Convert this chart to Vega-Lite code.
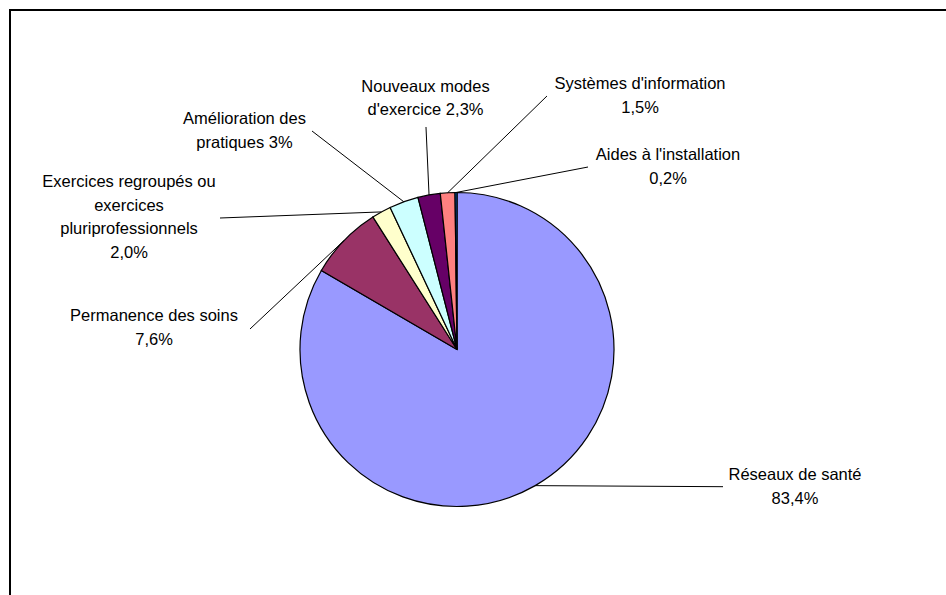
{
  "$schema": "https://vega.github.io/schema/vega-lite/v6.json",
  "width": 936,
  "height": 585,
  "autosize": {"type": "none"},
  "padding": {"left": 10, "top": 10, "right": 0, "bottom": 0},
  "background": "white",
  "config": {"view": {"stroke": null}},
  "data": {
    "values": [
      {"idx": 1, "cat": "Réseaux de santé", "pct": 83.4, "label": "Réseaux de santé\n83,4%"},
      {"idx": 2, "cat": "Permanence des soins", "pct": 7.6, "label": "Permanence des soins\n7,6%"},
      {"idx": 3, "cat": "Exercices regroupés ou exercices pluriprofessionnels", "pct": 2.0, "label": "Exercices regroupés ou\nexercices\npluriprofessionnels\n2,0%"},
      {"idx": 4, "cat": "Amélioration des pratiques", "pct": 3.0, "label": "Amélioration des\npratiques 3%"},
      {"idx": 5, "cat": "Nouveaux modes d'exercice", "pct": 2.3, "label": "Nouveaux modes\nd'exercice 2,3%"},
      {"idx": 6, "cat": "Systèmes d'information", "pct": 1.5, "label": "Systèmes d'information\n1,5%"},
      {"idx": 7, "cat": "Aides à l'installation", "pct": 0.2, "label": "Aides à l'installation\n0,2%"}
    ]
  },
  "layer": [
    {
      "mark": {"type": "arc", "outerRadius": 157, "stroke": "black", "strokeWidth": 1.2},
      "encoding": {
        "theta": {"field": "pct", "type": "quantitative", "stack": true},
        "order": {"field": "idx", "type": "quantitative"},
        "color": {
          "field": "cat",
          "type": "nominal",
          "legend": null,
          "scale": {
            "domain": ["Réseaux de santé", "Permanence des soins", "Exercices regroupés ou exercices pluriprofessionnels", "Amélioration des pratiques", "Nouveaux modes d'exercice", "Systèmes d'information", "Aides à l'installation"],
            "range": ["#9999FF", "#993366", "#FFFFCC", "#CCFFFF", "#660066", "#FF8080", "#0066CC"]
          }
        },
        "x": {"datum": 0, "type": "quantitative", "scale": {"domain": [-447, 489], "nice": false, "zero": false}, "axis": null},
        "y": {"datum": 0, "type": "quantitative", "scale": {"domain": [-339.5, 245.5], "reverse": true, "nice": false, "zero": false}, "axis": null}
      }
    },
    {
      "transform": [
        {"window": [{"op": "sum", "field": "pct", "as": "cum"}], "sort": [{"field": "idx"}], "frame": [null, 0]},
        {"calculate": "2 * PI * (datum.cum - datum.pct / 2) / 100", "as": "ang"},
        {"calculate": "157 * sin(datum.ang)", "as": "ex"},
        {"calculate": "-157 * cos(datum.ang)", "as": "ey"},
        {"calculate": "[266, -207, -237, -145, -31, 90, 131][datum.idx - 1]", "as": "lx"},
        {"calculate": "[137.2, -20.5, -131.5, -218.5, -222.5, -253.5, -182.5][datum.idx - 1]", "as": "ly"}
      ],
      "mark": {"type": "rule", "color": "black", "strokeWidth": 1},
      "encoding": {
        "x": {"field": "ex", "type": "quantitative", "axis": null},
        "y": {"field": "ey", "type": "quantitative", "axis": null},
        "x2": {"field": "lx"},
        "y2": {"field": "ly"}
      }
    },
    {
      "transform": [
        {"calculate": "[338, -303, -328, -212.5, -31.5, 183, 211][datum.idx - 1]", "as": "tx"},
        {"calculate": "[130.5, -28.5, -162.5, -225.5, -257.8, -260.2, -189.5][datum.idx - 1]", "as": "ty"}
      ],
      "mark": {"type": "text", "lineBreak": "\n", "align": "center", "baseline": "alphabetic", "font": "Liberation Sans", "fontSize": 16.5, "lineHeight": 23.5, "color": "black"},
      "encoding": {
        "x": {"field": "tx", "type": "quantitative", "axis": null},
        "y": {"field": "ty", "type": "quantitative", "axis": null},
        "text": {"field": "label"}
      }
    },
    {
      "data": {"values": [{"edge": "top"}]},
      "mark": {"type": "rule", "color": "black", "strokeWidth": 2},
      "encoding": {
        "x": {"datum": -448, "type": "quantitative"},
        "x2": {"datum": 489},
        "y": {"datum": -339.5, "type": "quantitative"}
      }
    },
    {
      "data": {"values": [{"edge": "left"}]},
      "mark": {"type": "rule", "color": "black", "strokeWidth": 2},
      "encoding": {
        "x": {"datum": -447, "type": "quantitative"},
        "y": {"datum": -339.5, "type": "quantitative"},
        "y2": {"datum": 245.5}
      }
    }
  ]
}
